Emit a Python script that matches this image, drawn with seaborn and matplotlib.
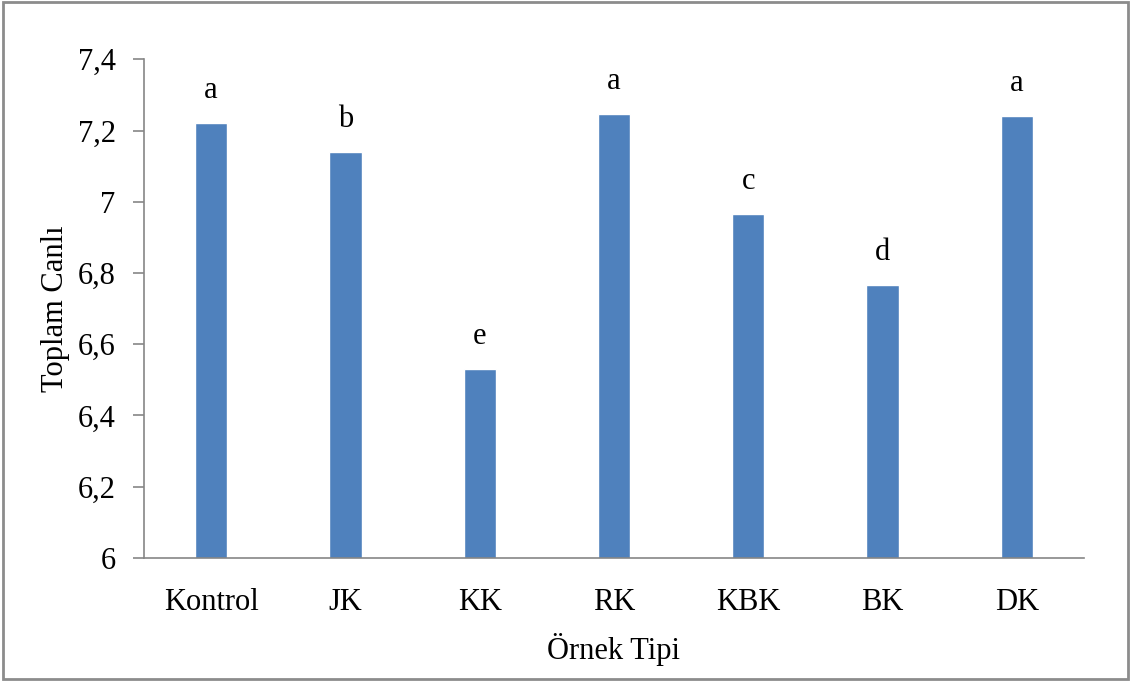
import matplotlib
matplotlib.use("Agg")
import matplotlib.pyplot as plt
import seaborn as sns
import pandas as pd
from matplotlib.patches import Rectangle

# Sample types and total viable counts (log cfu/g) with significance letters
samples = ["Kontrol", "JK", "KK", "RK", "KBK", "BK", "DK"]
counts = [7.22, 7.14, 6.53, 7.245, 6.965, 6.765, 7.24]
letters = ["a", "b", "e", "a", "c", "d", "a"]
yticks = [6.0, 6.2, 6.4, 6.6, 6.8, 7.0, 7.2, 7.4]
ytick_labels = ["6", "6,2", "6,4", "6,6", "6,8", "7", "7,2", "7,4"]

df = pd.DataFrame({"Örnek Tipi": samples, "Toplam Canlı": counts})

sns.set_theme(style="white")
plt.rcParams["font.family"] = ["Liberation Serif", "DejaVu Serif"]

fig = plt.figure(figsize=(11.31, 6.81), dpi=100)
ax = fig.add_axes([0.1273, 0.181, 0.8311, 0.7319])

bar_color = "#4F81BD"
sns.barplot(data=df, x="Örnek Tipi", y="Toplam Canlı", color=bar_color,
            width=0.24, saturation=1, ax=ax, errorbar=None)

ax.set_ylim(6.0, 7.4)
ax.set_xlim(-0.5, len(samples) - 0.5)
ax.set_yticks(yticks)
ax.set_yticklabels(ytick_labels)

axis_gray = "#868686"
for side in ["top", "right"]:
    ax.spines[side].set_visible(False)
for side in ["left", "bottom"]:
    ax.spines[side].set_color(axis_gray)
    ax.spines[side].set_linewidth(1.2)

ax.tick_params(axis="y", direction="out", length=8, width=1.2, color=axis_gray,
               labelsize=22, pad=12.5, left=True)
ax.tick_params(axis="x", length=0, labelsize=22, pad=22)
for lbl in ax.get_yticklabels() + ax.get_xticklabels():
    lbl.set_color("black")

ax.set_xlabel("Örnek Tipi", fontsize=22, color="black", labelpad=11)
ax.set_ylabel("Toplam Canlı", fontsize=22, color="black", labelpad=5.5)

# Significance letters above each bar
for i, (v, t) in enumerate(zip(counts, letters)):
    ax.annotate(t, xy=(i, v), xytext=(0, 18), textcoords="offset points",
                ha="center", va="baseline", fontsize=22, color="black")

# Outer frame around the whole figure
fig.patches.append(Rectangle((0.003, 0.003), 0.994, 0.994, transform=fig.transFigure,
                             fill=False, edgecolor="#8c8c8c", linewidth=2))

fig.savefig("out.png", dpi=100, facecolor="white")
